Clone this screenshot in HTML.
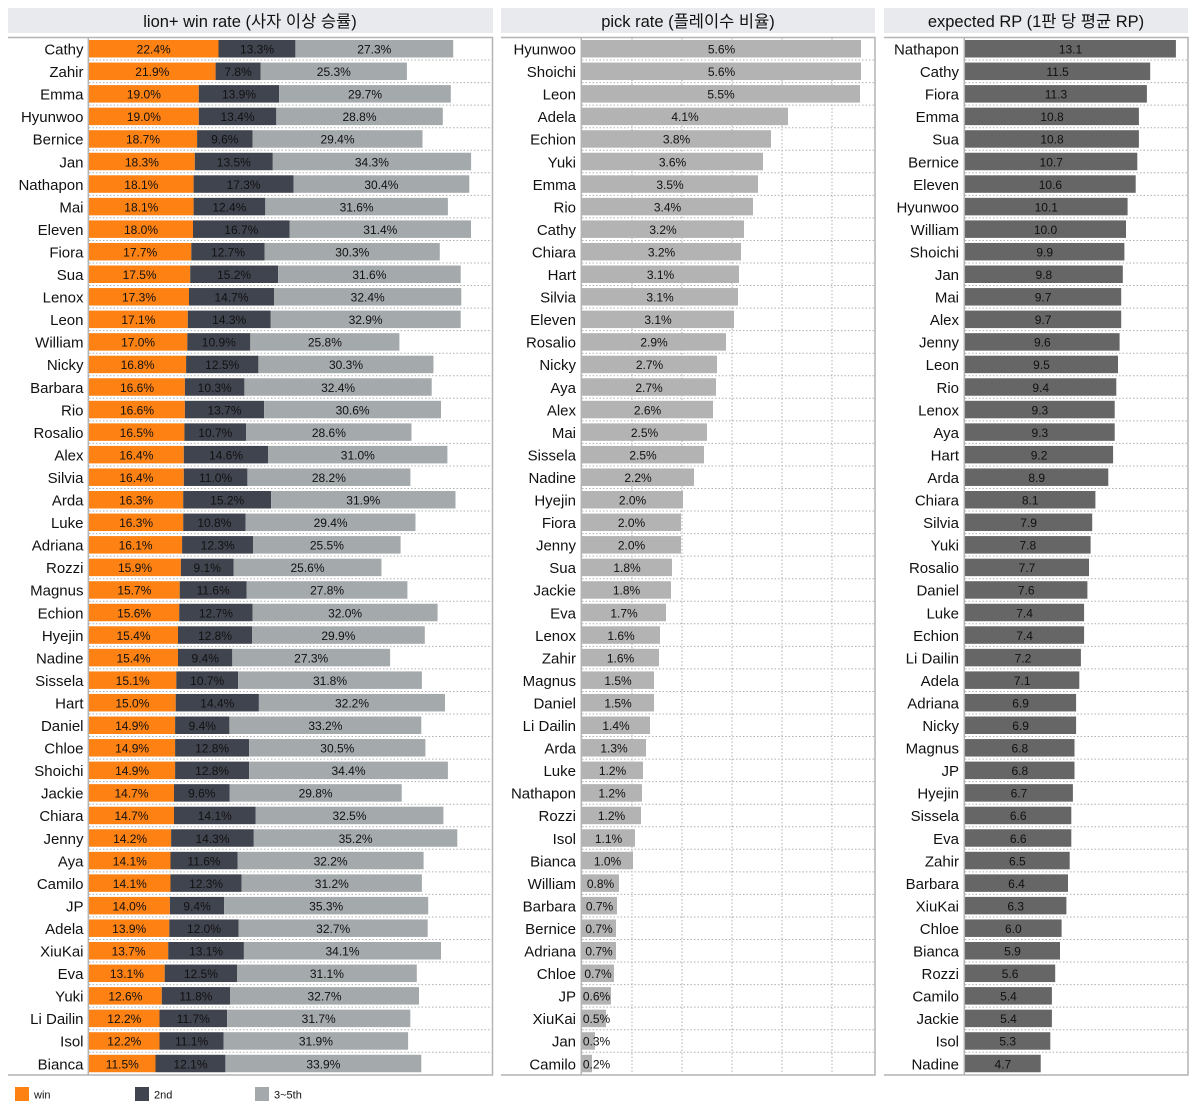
<!DOCTYPE html>
<html><head><meta charset="utf-8"><style>
html,body{margin:0;padding:0;background:#fff;}
svg{display:block;}
.l{font-family:"Liberation Sans","Noto Sans CJK KR",sans-serif;font-size:15px;fill:#111;text-anchor:end;}
.t{font-family:"Liberation Sans",sans-serif;font-size:12px;fill:#111;text-anchor:middle;}
.h{font-family:"Liberation Sans","Noto Sans CJK KR",sans-serif;font-size:16.5px;fill:#111;text-anchor:middle;}
.g{font-family:"Liberation Sans",sans-serif;font-size:11px;fill:#111;}
.o{fill:#FE8113}.d{fill:#40444F}.y{fill:#A4A9AC}.p{fill:#B3B3B3}.r{fill:#666666}
</style></head><body>
<svg width="1200" height="1120" xmlns="http://www.w3.org/2000/svg">
<rect x="0" y="0" width="1200" height="1120" fill="#fff"/>
<rect x="8" y="8" width="485" height="25" fill="#E9EAEE"/>
<rect x="501" y="8" width="374" height="25" fill="#E9EAEE"/>
<rect x="884" y="8" width="304" height="25" fill="#E9EAEE"/>
<text class="h" x="250" y="27">lion+ win rate (사자 이상 승률)</text>
<text class="h" x="688" y="27">pick rate (플레이수 비율)</text>
<text class="h" x="1036" y="27">expected RP (1판 당 평균 RP)</text>
<g stroke="#B0B0B0" stroke-width="1" stroke-dasharray="1.5 2" fill="none">
<path d="M632 38V1075M682 38V1075M732 38V1075M782 38V1075M832 38V1075"/>
<path d="M89 60.05H492M89 82.6H492M89 105.15H492M89 127.7H492M89 150.25H492M89 172.8H492M89 195.35H492M89 217.9H492M89 240.45H492M89 263H492M89 285.55H492M89 308.1H492M89 330.65H492M89 353.2H492M89 375.75H492M89 398.3H492M89 420.85H492M89 443.4H492M89 465.95H492M89 488.5H492M89 511.05H492M89 533.6H492M89 556.15H492M89 578.7H492M89 601.25H492M89 623.8H492M89 646.35H492M89 668.9H492M89 691.45H492M89 714H492M89 736.55H492M89 759.1H492M89 781.65H492M89 804.2H492M89 826.75H492M89 849.3H492M89 871.85H492M89 894.4H492M89 916.95H492M89 939.5H492M89 962.05H492M89 984.6H492M89 1007.15H492M89 1029.7H492M89 1052.25H492"/>
<path transform="translate(493,0)" d="M89 60.05H382M89 82.6H382M89 105.15H382M89 127.7H382M89 150.25H382M89 172.8H382M89 195.35H382M89 217.9H382M89 240.45H382M89 263H382M89 285.55H382M89 308.1H382M89 330.65H382M89 353.2H382M89 375.75H382M89 398.3H382M89 420.85H382M89 443.4H382M89 465.95H382M89 488.5H382M89 511.05H382M89 533.6H382M89 556.15H382M89 578.7H382M89 601.25H382M89 623.8H382M89 646.35H382M89 668.9H382M89 691.45H382M89 714H382M89 736.55H382M89 759.1H382M89 781.65H382M89 804.2H382M89 826.75H382M89 849.3H382M89 871.85H382M89 894.4H382M89 916.95H382M89 939.5H382M89 962.05H382M89 984.6H382M89 1007.15H382M89 1029.7H382M89 1052.25H382"/>
<path transform="translate(876,0)" d="M89 60.05H312M89 82.6H312M89 105.15H312M89 127.7H312M89 150.25H312M89 172.8H312M89 195.35H312M89 217.9H312M89 240.45H312M89 263H312M89 285.55H312M89 308.1H312M89 330.65H312M89 353.2H312M89 375.75H312M89 398.3H312M89 420.85H312M89 443.4H312M89 465.95H312M89 488.5H312M89 511.05H312M89 533.6H312M89 556.15H312M89 578.7H312M89 601.25H312M89 623.8H312M89 646.35H312M89 668.9H312M89 691.45H312M89 714H312M89 736.55H312M89 759.1H312M89 781.65H312M89 804.2H312M89 826.75H312M89 849.3H312M89 871.85H312M89 894.4H312M89 916.95H312M89 939.5H312M89 962.05H312M89 984.6H312M89 1007.15H312M89 1029.7H312M89 1052.25H312"/>
</g>

<g transform="translate(0,37.5)"><text class="l" x="83.5" y="17">Cathy</text><rect class="o" x="89" y="2.5" width="129.5" height="17.5"/><rect class="d" x="218.5" y="2.5" width="76.9" height="17.5"/><rect class="y" x="295.4" y="2.5" width="157.8" height="17.5"/><text class="t" x="153.7" y="16">22.4%</text><text class="t" x="257" y="16">13.3%</text><text class="t" x="374.3" y="16">27.3%</text>
<text class="l" x="576" y="17">Hyunwoo</text><rect class="p" x="582" y="2.5" width="279" height="17.5"/><text class="t" x="721.5" y="16">5.6%</text>
<text class="l" x="959" y="17">Nathapon</text><rect class="r" x="965" y="2.5" width="210.9" height="17.5"/><text class="t" x="1070.5" y="16">13.1</text></g>

<g transform="translate(0,60.05)"><text class="l" x="83.5" y="17">Zahir</text><rect class="o" x="89" y="2.5" width="126.6" height="17.5"/><rect class="d" x="215.6" y="2.5" width="45.1" height="17.5"/><rect class="y" x="260.7" y="2.5" width="146.2" height="17.5"/><text class="t" x="152.3" y="16">21.9%</text><text class="t" x="238.1" y="16">7.8%</text><text class="t" x="333.8" y="16">25.3%</text>
<text class="l" x="576" y="17">Shoichi</text><rect class="p" x="582" y="2.5" width="279" height="17.5"/><text class="t" x="721.5" y="16">5.6%</text>
<text class="l" x="959" y="17">Cathy</text><rect class="r" x="965" y="2.5" width="185.2" height="17.5"/><text class="t" x="1057.6" y="16">11.5</text></g>

<g transform="translate(0,82.6)"><text class="l" x="83.5" y="17">Emma</text><rect class="o" x="89" y="2.5" width="109.8" height="17.5"/><rect class="d" x="198.8" y="2.5" width="80.3" height="17.5"/><rect class="y" x="279.1" y="2.5" width="171.7" height="17.5"/><text class="t" x="143.9" y="16">19.0%</text><text class="t" x="239" y="16">13.9%</text><text class="t" x="365" y="16">29.7%</text>
<text class="l" x="576" y="17">Leon</text><rect class="p" x="582" y="2.5" width="278" height="17.5"/><text class="t" x="721" y="16">5.5%</text>
<text class="l" x="959" y="17">Fiora</text><rect class="r" x="965" y="2.5" width="181.9" height="17.5"/><text class="t" x="1056" y="16">11.3</text></g>

<g transform="translate(0,105.15)"><text class="l" x="83.5" y="17">Hyunwoo</text><rect class="o" x="89" y="2.5" width="109.8" height="17.5"/><rect class="d" x="198.8" y="2.5" width="77.5" height="17.5"/><rect class="y" x="276.3" y="2.5" width="166.5" height="17.5"/><text class="t" x="143.9" y="16">19.0%</text><text class="t" x="237.5" y="16">13.4%</text><text class="t" x="359.5" y="16">28.8%</text>
<text class="l" x="576" y="17">Adela</text><rect class="p" x="582" y="2.5" width="206" height="17.5"/><text class="t" x="685" y="16">4.1%</text>
<text class="l" x="959" y="17">Emma</text><rect class="r" x="965" y="2.5" width="173.9" height="17.5"/><text class="t" x="1052" y="16">10.8</text></g>

<g transform="translate(0,127.7)"><text class="l" x="83.5" y="17">Bernice</text><rect class="o" x="89" y="2.5" width="108.1" height="17.5"/><rect class="d" x="197.1" y="2.5" width="55.5" height="17.5"/><rect class="y" x="252.6" y="2.5" width="169.9" height="17.5"/><text class="t" x="143" y="16">18.7%</text><text class="t" x="224.8" y="16">9.6%</text><text class="t" x="337.5" y="16">29.4%</text>
<text class="l" x="576" y="17">Echion</text><rect class="p" x="582" y="2.5" width="189" height="17.5"/><text class="t" x="676.5" y="16">3.8%</text>
<text class="l" x="959" y="17">Sua</text><rect class="r" x="965" y="2.5" width="173.9" height="17.5"/><text class="t" x="1052" y="16">10.8</text></g>

<g transform="translate(0,150.25)"><text class="l" x="83.5" y="17">Jan</text><rect class="o" x="89" y="2.5" width="105.8" height="17.5"/><rect class="d" x="194.8" y="2.5" width="78" height="17.5"/><rect class="y" x="272.8" y="2.5" width="198.3" height="17.5"/><text class="t" x="141.9" y="16">18.3%</text><text class="t" x="233.8" y="16">13.5%</text><text class="t" x="371.9" y="16">34.3%</text>
<text class="l" x="576" y="17">Yuki</text><rect class="p" x="582" y="2.5" width="181" height="17.5"/><text class="t" x="672.5" y="16">3.6%</text>
<text class="l" x="959" y="17">Bernice</text><rect class="r" x="965" y="2.5" width="172.3" height="17.5"/><text class="t" x="1051.2" y="16">10.7</text></g>

<g transform="translate(0,172.8)"><text class="l" x="83.5" y="17">Nathapon</text><rect class="o" x="89" y="2.5" width="104.6" height="17.5"/><rect class="d" x="193.6" y="2.5" width="100" height="17.5"/><rect class="y" x="293.6" y="2.5" width="175.7" height="17.5"/><text class="t" x="141.3" y="16">18.1%</text><text class="t" x="243.6" y="16">17.3%</text><text class="t" x="381.4" y="16">30.4%</text>
<text class="l" x="576" y="17">Emma</text><rect class="p" x="582" y="2.5" width="176" height="17.5"/><text class="t" x="670" y="16">3.5%</text>
<text class="l" x="959" y="17">Eleven</text><rect class="r" x="965" y="2.5" width="170.7" height="17.5"/><text class="t" x="1050.4" y="16">10.6</text></g>

<g transform="translate(0,195.35)"><text class="l" x="83.5" y="17">Mai</text><rect class="o" x="89" y="2.5" width="104.6" height="17.5"/><rect class="d" x="193.6" y="2.5" width="71.7" height="17.5"/><rect class="y" x="265.3" y="2.5" width="182.6" height="17.5"/><text class="t" x="141.3" y="16">18.1%</text><text class="t" x="229.4" y="16">12.4%</text><text class="t" x="356.6" y="16">31.6%</text>
<text class="l" x="576" y="17">Rio</text><rect class="p" x="582" y="2.5" width="171" height="17.5"/><text class="t" x="667.5" y="16">3.4%</text>
<text class="l" x="959" y="17">Hyunwoo</text><rect class="r" x="965" y="2.5" width="162.6" height="17.5"/><text class="t" x="1046.3" y="16">10.1</text></g>

<g transform="translate(0,217.9)"><text class="l" x="83.5" y="17">Eleven</text><rect class="o" x="89" y="2.5" width="104" height="17.5"/><rect class="d" x="193" y="2.5" width="96.5" height="17.5"/><rect class="y" x="289.5" y="2.5" width="181.5" height="17.5"/><text class="t" x="141" y="16">18.0%</text><text class="t" x="241.3" y="16">16.7%</text><text class="t" x="380.3" y="16">31.4%</text>
<text class="l" x="576" y="17">Cathy</text><rect class="p" x="582" y="2.5" width="162" height="17.5"/><text class="t" x="663" y="16">3.2%</text>
<text class="l" x="959" y="17">William</text><rect class="r" x="965" y="2.5" width="161" height="17.5"/><text class="t" x="1045.5" y="16">10.0</text></g>

<g transform="translate(0,240.45)"><text class="l" x="83.5" y="17">Fiora</text><rect class="o" x="89" y="2.5" width="102.3" height="17.5"/><rect class="d" x="191.3" y="2.5" width="73.4" height="17.5"/><rect class="y" x="264.7" y="2.5" width="175.1" height="17.5"/><text class="t" x="140.2" y="16">17.7%</text><text class="t" x="228" y="16">12.7%</text><text class="t" x="352.3" y="16">30.3%</text>
<text class="l" x="576" y="17">Chiara</text><rect class="p" x="582" y="2.5" width="159" height="17.5"/><text class="t" x="661.5" y="16">3.2%</text>
<text class="l" x="959" y="17">Shoichi</text><rect class="r" x="965" y="2.5" width="159.4" height="17.5"/><text class="t" x="1044.7" y="16">9.9</text></g>

<g transform="translate(0,263)"><text class="l" x="83.5" y="17">Sua</text><rect class="o" x="89" y="2.5" width="101.2" height="17.5"/><rect class="d" x="190.2" y="2.5" width="87.9" height="17.5"/><rect class="y" x="278.1" y="2.5" width="182.6" height="17.5"/><text class="t" x="139.6" y="16">17.5%</text><text class="t" x="234.1" y="16">15.2%</text><text class="t" x="369.4" y="16">31.6%</text>
<text class="l" x="576" y="17">Hart</text><rect class="p" x="582" y="2.5" width="157" height="17.5"/><text class="t" x="660.5" y="16">3.1%</text>
<text class="l" x="959" y="17">Jan</text><rect class="r" x="965" y="2.5" width="157.8" height="17.5"/><text class="t" x="1043.9" y="16">9.8</text></g>

<g transform="translate(0,285.55)"><text class="l" x="83.5" y="17">Lenox</text><rect class="o" x="89" y="2.5" width="100" height="17.5"/><rect class="d" x="189" y="2.5" width="85" height="17.5"/><rect class="y" x="274" y="2.5" width="187.3" height="17.5"/><text class="t" x="139" y="16">17.3%</text><text class="t" x="231.5" y="16">14.7%</text><text class="t" x="367.7" y="16">32.4%</text>
<text class="l" x="576" y="17">Silvia</text><rect class="p" x="582" y="2.5" width="156" height="17.5"/><text class="t" x="660" y="16">3.1%</text>
<text class="l" x="959" y="17">Mai</text><rect class="r" x="965" y="2.5" width="156.2" height="17.5"/><text class="t" x="1043.1" y="16">9.7</text></g>

<g transform="translate(0,308.1)"><text class="l" x="83.5" y="17">Leon</text><rect class="o" x="89" y="2.5" width="98.8" height="17.5"/><rect class="d" x="187.8" y="2.5" width="82.7" height="17.5"/><rect class="y" x="270.5" y="2.5" width="190.2" height="17.5"/><text class="t" x="138.4" y="16">17.1%</text><text class="t" x="229.2" y="16">14.3%</text><text class="t" x="365.6" y="16">32.9%</text>
<text class="l" x="576" y="17">Eleven</text><rect class="p" x="582" y="2.5" width="152" height="17.5"/><text class="t" x="658" y="16">3.1%</text>
<text class="l" x="959" y="17">Alex</text><rect class="r" x="965" y="2.5" width="156.2" height="17.5"/><text class="t" x="1043.1" y="16">9.7</text></g>

<g transform="translate(0,330.65)"><text class="l" x="83.5" y="17">William</text><rect class="o" x="89" y="2.5" width="98.3" height="17.5"/><rect class="d" x="187.3" y="2.5" width="63" height="17.5"/><rect class="y" x="250.3" y="2.5" width="149.1" height="17.5"/><text class="t" x="138.1" y="16">17.0%</text><text class="t" x="218.8" y="16">10.9%</text><text class="t" x="324.9" y="16">25.8%</text>
<text class="l" x="576" y="17">Rosalio</text><rect class="p" x="582" y="2.5" width="144" height="17.5"/><text class="t" x="654" y="16">2.9%</text>
<text class="l" x="959" y="17">Jenny</text><rect class="r" x="965" y="2.5" width="154.6" height="17.5"/><text class="t" x="1042.3" y="16">9.6</text></g>

<g transform="translate(0,353.2)"><text class="l" x="83.5" y="17">Nicky</text><rect class="o" x="89" y="2.5" width="97.1" height="17.5"/><rect class="d" x="186.1" y="2.5" width="72.3" height="17.5"/><rect class="y" x="258.4" y="2.5" width="175.1" height="17.5"/><text class="t" x="137.6" y="16">16.8%</text><text class="t" x="222.2" y="16">12.5%</text><text class="t" x="346" y="16">30.3%</text>
<text class="l" x="576" y="17">Nicky</text><rect class="p" x="582" y="2.5" width="135" height="17.5"/><text class="t" x="649.5" y="16">2.7%</text>
<text class="l" x="959" y="17">Leon</text><rect class="r" x="965" y="2.5" width="153" height="17.5"/><text class="t" x="1041.5" y="16">9.5</text></g>

<g transform="translate(0,375.75)"><text class="l" x="83.5" y="17">Barbara</text><rect class="o" x="89" y="2.5" width="95.9" height="17.5"/><rect class="d" x="184.9" y="2.5" width="59.5" height="17.5"/><rect class="y" x="244.4" y="2.5" width="187.3" height="17.5"/><text class="t" x="137" y="16">16.6%</text><text class="t" x="214.7" y="16">10.3%</text><text class="t" x="338.1" y="16">32.4%</text>
<text class="l" x="576" y="17">Aya</text><rect class="p" x="582" y="2.5" width="134" height="17.5"/><text class="t" x="649" y="16">2.7%</text>
<text class="l" x="959" y="17">Rio</text><rect class="r" x="965" y="2.5" width="151.3" height="17.5"/><text class="t" x="1040.7" y="16">9.4</text></g>

<g transform="translate(0,398.3)"><text class="l" x="83.5" y="17">Rio</text><rect class="o" x="89" y="2.5" width="95.9" height="17.5"/><rect class="d" x="184.9" y="2.5" width="79.2" height="17.5"/><rect class="y" x="264.1" y="2.5" width="176.9" height="17.5"/><text class="t" x="137" y="16">16.6%</text><text class="t" x="224.5" y="16">13.7%</text><text class="t" x="352.6" y="16">30.6%</text>
<text class="l" x="576" y="17">Alex</text><rect class="p" x="582" y="2.5" width="131" height="17.5"/><text class="t" x="647.5" y="16">2.6%</text>
<text class="l" x="959" y="17">Lenox</text><rect class="r" x="965" y="2.5" width="149.7" height="17.5"/><text class="t" x="1039.9" y="16">9.3</text></g>

<g transform="translate(0,420.85)"><text class="l" x="83.5" y="17">Rosalio</text><rect class="o" x="89" y="2.5" width="95.4" height="17.5"/><rect class="d" x="184.4" y="2.5" width="61.8" height="17.5"/><rect class="y" x="246.2" y="2.5" width="165.3" height="17.5"/><text class="t" x="136.7" y="16">16.5%</text><text class="t" x="215.3" y="16">10.7%</text><text class="t" x="328.9" y="16">28.6%</text>
<text class="l" x="576" y="17">Mai</text><rect class="p" x="582" y="2.5" width="125" height="17.5"/><text class="t" x="644.5" y="16">2.5%</text>
<text class="l" x="959" y="17">Aya</text><rect class="r" x="965" y="2.5" width="149.7" height="17.5"/><text class="t" x="1039.9" y="16">9.3</text></g>

<g transform="translate(0,443.4)"><text class="l" x="83.5" y="17">Alex</text><rect class="o" x="89" y="2.5" width="94.8" height="17.5"/><rect class="d" x="183.8" y="2.5" width="84.4" height="17.5"/><rect class="y" x="268.2" y="2.5" width="179.2" height="17.5"/><text class="t" x="136.4" y="16">16.4%</text><text class="t" x="226" y="16">14.6%</text><text class="t" x="357.8" y="16">31.0%</text>
<text class="l" x="576" y="17">Sissela</text><rect class="p" x="582" y="2.5" width="122" height="17.5"/><text class="t" x="643" y="16">2.5%</text>
<text class="l" x="959" y="17">Hart</text><rect class="r" x="965" y="2.5" width="148.1" height="17.5"/><text class="t" x="1039.1" y="16">9.2</text></g>

<g transform="translate(0,465.95)"><text class="l" x="83.5" y="17">Silvia</text><rect class="o" x="89" y="2.5" width="94.8" height="17.5"/><rect class="d" x="183.8" y="2.5" width="63.6" height="17.5"/><rect class="y" x="247.4" y="2.5" width="163" height="17.5"/><text class="t" x="136.4" y="16">16.4%</text><text class="t" x="215.6" y="16">11.0%</text><text class="t" x="328.9" y="16">28.2%</text>
<text class="l" x="576" y="17">Nadine</text><rect class="p" x="582" y="2.5" width="112" height="17.5"/><text class="t" x="638" y="16">2.2%</text>
<text class="l" x="959" y="17">Arda</text><rect class="r" x="965" y="2.5" width="143.3" height="17.5"/><text class="t" x="1036.7" y="16">8.9</text></g>

<g transform="translate(0,488.5)"><text class="l" x="83.5" y="17">Arda</text><rect class="o" x="89" y="2.5" width="94.2" height="17.5"/><rect class="d" x="183.2" y="2.5" width="87.9" height="17.5"/><rect class="y" x="271.1" y="2.5" width="184.4" height="17.5"/><text class="t" x="136.1" y="16">16.3%</text><text class="t" x="227.2" y="16">15.2%</text><text class="t" x="363.3" y="16">31.9%</text>
<text class="l" x="576" y="17">Hyejin</text><rect class="p" x="582" y="2.5" width="101" height="17.5"/><text class="t" x="632.5" y="16">2.0%</text>
<text class="l" x="959" y="17">Chiara</text><rect class="r" x="965" y="2.5" width="130.4" height="17.5"/><text class="t" x="1030.2" y="16">8.1</text></g>

<g transform="translate(0,511.05)"><text class="l" x="83.5" y="17">Luke</text><rect class="o" x="89" y="2.5" width="94.2" height="17.5"/><rect class="d" x="183.2" y="2.5" width="62.4" height="17.5"/><rect class="y" x="245.6" y="2.5" width="169.9" height="17.5"/><text class="t" x="136.1" y="16">16.3%</text><text class="t" x="214.4" y="16">10.8%</text><text class="t" x="330.6" y="16">29.4%</text>
<text class="l" x="576" y="17">Fiora</text><rect class="p" x="582" y="2.5" width="99" height="17.5"/><text class="t" x="631.5" y="16">2.0%</text>
<text class="l" x="959" y="17">Silvia</text><rect class="r" x="965" y="2.5" width="127.2" height="17.5"/><text class="t" x="1028.6" y="16">7.9</text></g>

<g transform="translate(0,533.6)"><text class="l" x="83.5" y="17">Adriana</text><rect class="o" x="89" y="2.5" width="93.1" height="17.5"/><rect class="d" x="182.1" y="2.5" width="71.1" height="17.5"/><rect class="y" x="253.2" y="2.5" width="147.4" height="17.5"/><text class="t" x="135.6" y="16">16.1%</text><text class="t" x="217.7" y="16">12.3%</text><text class="t" x="326.9" y="16">25.5%</text>
<text class="l" x="576" y="17">Jenny</text><rect class="p" x="582" y="2.5" width="99" height="17.5"/><text class="t" x="631.5" y="16">2.0%</text>
<text class="l" x="959" y="17">Yuki</text><rect class="r" x="965" y="2.5" width="125.6" height="17.5"/><text class="t" x="1027.8" y="16">7.8</text></g>

<g transform="translate(0,556.15)"><text class="l" x="83.5" y="17">Rozzi</text><rect class="o" x="89" y="2.5" width="91.9" height="17.5"/><rect class="d" x="180.9" y="2.5" width="52.6" height="17.5"/><rect class="y" x="233.5" y="2.5" width="148" height="17.5"/><text class="t" x="135" y="16">15.9%</text><text class="t" x="207.2" y="16">9.1%</text><text class="t" x="307.5" y="16">25.6%</text>
<text class="l" x="576" y="17">Sua</text><rect class="p" x="582" y="2.5" width="90" height="17.5"/><text class="t" x="627" y="16">1.8%</text>
<text class="l" x="959" y="17">Rosalio</text><rect class="r" x="965" y="2.5" width="124" height="17.5"/><text class="t" x="1027" y="16">7.7</text></g>

<g transform="translate(0,578.7)"><text class="l" x="83.5" y="17">Magnus</text><rect class="o" x="89" y="2.5" width="90.7" height="17.5"/><rect class="d" x="179.7" y="2.5" width="67" height="17.5"/><rect class="y" x="246.7" y="2.5" width="160.7" height="17.5"/><text class="t" x="134.4" y="16">15.7%</text><text class="t" x="213.2" y="16">11.6%</text><text class="t" x="327.1" y="16">27.8%</text>
<text class="l" x="576" y="17">Jackie</text><rect class="p" x="582" y="2.5" width="89" height="17.5"/><text class="t" x="626.5" y="16">1.8%</text>
<text class="l" x="959" y="17">Daniel</text><rect class="r" x="965" y="2.5" width="122.4" height="17.5"/><text class="t" x="1026.2" y="16">7.6</text></g>

<g transform="translate(0,601.25)"><text class="l" x="83.5" y="17">Echion</text><rect class="o" x="89" y="2.5" width="90.2" height="17.5"/><rect class="d" x="179.2" y="2.5" width="73.4" height="17.5"/><rect class="y" x="252.6" y="2.5" width="185" height="17.5"/><text class="t" x="134.1" y="16">15.6%</text><text class="t" x="215.9" y="16">12.7%</text><text class="t" x="345.1" y="16">32.0%</text>
<text class="l" x="576" y="17">Eva</text><rect class="p" x="582" y="2.5" width="84" height="17.5"/><text class="t" x="624" y="16">1.7%</text>
<text class="l" x="959" y="17">Luke</text><rect class="r" x="965" y="2.5" width="119.1" height="17.5"/><text class="t" x="1024.6" y="16">7.4</text></g>

<g transform="translate(0,623.8)"><text class="l" x="83.5" y="17">Hyejin</text><rect class="o" x="89" y="2.5" width="89" height="17.5"/><rect class="d" x="178" y="2.5" width="74" height="17.5"/><rect class="y" x="252" y="2.5" width="172.8" height="17.5"/><text class="t" x="133.5" y="16">15.4%</text><text class="t" x="215" y="16">12.8%</text><text class="t" x="338.4" y="16">29.9%</text>
<text class="l" x="576" y="17">Lenox</text><rect class="p" x="582" y="2.5" width="78" height="17.5"/><text class="t" x="621" y="16">1.6%</text>
<text class="l" x="959" y="17">Echion</text><rect class="r" x="965" y="2.5" width="119.1" height="17.5"/><text class="t" x="1024.6" y="16">7.4</text></g>

<g transform="translate(0,646.35)"><text class="l" x="83.5" y="17">Nadine</text><rect class="o" x="89" y="2.5" width="89" height="17.5"/><rect class="d" x="178" y="2.5" width="54.3" height="17.5"/><rect class="y" x="232.3" y="2.5" width="157.8" height="17.5"/><text class="t" x="133.5" y="16">15.4%</text><text class="t" x="205.2" y="16">9.4%</text><text class="t" x="311.2" y="16">27.3%</text>
<text class="l" x="576" y="17">Zahir</text><rect class="p" x="582" y="2.5" width="77" height="17.5"/><text class="t" x="620.5" y="16">1.6%</text>
<text class="l" x="959" y="17">Li Dailin</text><rect class="r" x="965" y="2.5" width="115.9" height="17.5"/><text class="t" x="1023" y="16">7.2</text></g>

<g transform="translate(0,668.9)"><text class="l" x="83.5" y="17">Sissela</text><rect class="o" x="89" y="2.5" width="87.3" height="17.5"/><rect class="d" x="176.3" y="2.5" width="61.8" height="17.5"/><rect class="y" x="238.1" y="2.5" width="183.8" height="17.5"/><text class="t" x="132.7" y="16">15.1%</text><text class="t" x="207.2" y="16">10.7%</text><text class="t" x="330" y="16">31.8%</text>
<text class="l" x="576" y="17">Magnus</text><rect class="p" x="582" y="2.5" width="72" height="17.5"/><text class="t" x="618" y="16">1.5%</text>
<text class="l" x="959" y="17">Adela</text><rect class="r" x="965" y="2.5" width="114.3" height="17.5"/><text class="t" x="1022.2" y="16">7.1</text></g>

<g transform="translate(0,691.45)"><text class="l" x="83.5" y="17">Hart</text><rect class="o" x="89" y="2.5" width="86.7" height="17.5"/><rect class="d" x="175.7" y="2.5" width="83.2" height="17.5"/><rect class="y" x="258.9" y="2.5" width="186.1" height="17.5"/><text class="t" x="132.4" y="16">15.0%</text><text class="t" x="217.3" y="16">14.4%</text><text class="t" x="352" y="16">32.2%</text>
<text class="l" x="576" y="17">Daniel</text><rect class="p" x="582" y="2.5" width="72" height="17.5"/><text class="t" x="618" y="16">1.5%</text>
<text class="l" x="959" y="17">Adriana</text><rect class="r" x="965" y="2.5" width="111.1" height="17.5"/><text class="t" x="1020.6" y="16">6.9</text></g>

<g transform="translate(0,714)"><text class="l" x="83.5" y="17">Daniel</text><rect class="o" x="89" y="2.5" width="86.1" height="17.5"/><rect class="d" x="175.1" y="2.5" width="54.3" height="17.5"/><rect class="y" x="229.4" y="2.5" width="191.9" height="17.5"/><text class="t" x="132.1" y="16">14.9%</text><text class="t" x="202.3" y="16">9.4%</text><text class="t" x="325.4" y="16">33.2%</text>
<text class="l" x="576" y="17">Li Dailin</text><rect class="p" x="582" y="2.5" width="68" height="17.5"/><text class="t" x="616" y="16">1.4%</text>
<text class="l" x="959" y="17">Nicky</text><rect class="r" x="965" y="2.5" width="111.1" height="17.5"/><text class="t" x="1020.6" y="16">6.9</text></g>

<g transform="translate(0,736.55)"><text class="l" x="83.5" y="17">Chloe</text><rect class="o" x="89" y="2.5" width="86.1" height="17.5"/><rect class="d" x="175.1" y="2.5" width="74" height="17.5"/><rect class="y" x="249.1" y="2.5" width="176.3" height="17.5"/><text class="t" x="132.1" y="16">14.9%</text><text class="t" x="212.1" y="16">12.8%</text><text class="t" x="337.3" y="16">30.5%</text>
<text class="l" x="576" y="17">Arda</text><rect class="p" x="582" y="2.5" width="64" height="17.5"/><text class="t" x="614" y="16">1.3%</text>
<text class="l" x="959" y="17">Magnus</text><rect class="r" x="965" y="2.5" width="109.5" height="17.5"/><text class="t" x="1019.8" y="16">6.8</text></g>

<g transform="translate(0,759.1)"><text class="l" x="83.5" y="17">Shoichi</text><rect class="o" x="89" y="2.5" width="86.1" height="17.5"/><rect class="d" x="175.1" y="2.5" width="74" height="17.5"/><rect class="y" x="249.1" y="2.5" width="198.8" height="17.5"/><text class="t" x="132.1" y="16">14.9%</text><text class="t" x="212.1" y="16">12.8%</text><text class="t" x="348.5" y="16">34.4%</text>
<text class="l" x="576" y="17">Luke</text><rect class="p" x="582" y="2.5" width="61" height="17.5"/><text class="t" x="612.5" y="16">1.2%</text>
<text class="l" x="959" y="17">JP</text><rect class="r" x="965" y="2.5" width="109.5" height="17.5"/><text class="t" x="1019.8" y="16">6.8</text></g>

<g transform="translate(0,781.65)"><text class="l" x="83.5" y="17">Jackie</text><rect class="o" x="89" y="2.5" width="85" height="17.5"/><rect class="d" x="174" y="2.5" width="55.5" height="17.5"/><rect class="y" x="229.5" y="2.5" width="172.2" height="17.5"/><text class="t" x="131.5" y="16">14.7%</text><text class="t" x="201.8" y="16">9.6%</text><text class="t" x="315.6" y="16">29.8%</text>
<text class="l" x="576" y="17">Nathapon</text><rect class="p" x="582" y="2.5" width="60" height="17.5"/><text class="t" x="612" y="16">1.2%</text>
<text class="l" x="959" y="17">Hyejin</text><rect class="r" x="965" y="2.5" width="107.9" height="17.5"/><text class="t" x="1019" y="16">6.7</text></g>

<g transform="translate(0,804.2)"><text class="l" x="83.5" y="17">Chiara</text><rect class="o" x="89" y="2.5" width="85" height="17.5"/><rect class="d" x="174" y="2.5" width="81.5" height="17.5"/><rect class="y" x="255.5" y="2.5" width="187.9" height="17.5"/><text class="t" x="131.5" y="16">14.7%</text><text class="t" x="214.8" y="16">14.1%</text><text class="t" x="349.5" y="16">32.5%</text>
<text class="l" x="576" y="17">Rozzi</text><rect class="p" x="582" y="2.5" width="59" height="17.5"/><text class="t" x="611.5" y="16">1.2%</text>
<text class="l" x="959" y="17">Sissela</text><rect class="r" x="965" y="2.5" width="106.3" height="17.5"/><text class="t" x="1018.2" y="16">6.6</text></g>

<g transform="translate(0,826.75)"><text class="l" x="83.5" y="17">Jenny</text><rect class="o" x="89" y="2.5" width="82.1" height="17.5"/><rect class="d" x="171.1" y="2.5" width="82.7" height="17.5"/><rect class="y" x="253.8" y="2.5" width="203.5" height="17.5"/><text class="t" x="130.1" y="16">14.2%</text><text class="t" x="212.5" y="16">14.3%</text><text class="t" x="355.6" y="16">35.2%</text>
<text class="l" x="576" y="17">Isol</text><rect class="p" x="582" y="2.5" width="53" height="17.5"/><text class="t" x="608.5" y="16">1.1%</text>
<text class="l" x="959" y="17">Eva</text><rect class="r" x="965" y="2.5" width="106.3" height="17.5"/><text class="t" x="1018.2" y="16">6.6</text></g>

<g transform="translate(0,849.3)"><text class="l" x="83.5" y="17">Aya</text><rect class="o" x="89" y="2.5" width="81.5" height="17.5"/><rect class="d" x="170.5" y="2.5" width="67" height="17.5"/><rect class="y" x="237.5" y="2.5" width="186.1" height="17.5"/><text class="t" x="129.8" y="16">14.1%</text><text class="t" x="204" y="16">11.6%</text><text class="t" x="330.6" y="16">32.2%</text>
<text class="l" x="576" y="17">Bianca</text><rect class="p" x="582" y="2.5" width="51" height="17.5"/><text class="t" x="607.5" y="16">1.0%</text>
<text class="l" x="959" y="17">Zahir</text><rect class="r" x="965" y="2.5" width="104.7" height="17.5"/><text class="t" x="1017.4" y="16">6.5</text></g>

<g transform="translate(0,871.85)"><text class="l" x="83.5" y="17">Camilo</text><rect class="o" x="89" y="2.5" width="81.5" height="17.5"/><rect class="d" x="170.5" y="2.5" width="71.1" height="17.5"/><rect class="y" x="241.6" y="2.5" width="180.3" height="17.5"/><text class="t" x="129.8" y="16">14.1%</text><text class="t" x="206.1" y="16">12.3%</text><text class="t" x="331.8" y="16">31.2%</text>
<text class="l" x="576" y="17">William</text><rect class="p" x="582" y="2.5" width="37" height="17.5"/><text class="t" x="600.5" y="16">0.8%</text>
<text class="l" x="959" y="17">Barbara</text><rect class="r" x="965" y="2.5" width="103" height="17.5"/><text class="t" x="1016.5" y="16">6.4</text></g>

<g transform="translate(0,894.4)"><text class="l" x="83.5" y="17">JP</text><rect class="o" x="89" y="2.5" width="80.9" height="17.5"/><rect class="d" x="169.9" y="2.5" width="54.3" height="17.5"/><rect class="y" x="224.2" y="2.5" width="204" height="17.5"/><text class="t" x="129.5" y="16">14.0%</text><text class="t" x="197.1" y="16">9.4%</text><text class="t" x="326.2" y="16">35.3%</text>
<text class="l" x="576" y="17">Barbara</text><rect class="p" x="582" y="2.5" width="35" height="17.5"/><text class="t" x="599.5" y="16">0.7%</text>
<text class="l" x="959" y="17">XiuKai</text><rect class="r" x="965" y="2.5" width="101.4" height="17.5"/><text class="t" x="1015.7" y="16">6.3</text></g>

<g transform="translate(0,916.95)"><text class="l" x="83.5" y="17">Adela</text><rect class="o" x="89" y="2.5" width="80.3" height="17.5"/><rect class="d" x="169.3" y="2.5" width="69.4" height="17.5"/><rect class="y" x="238.7" y="2.5" width="189" height="17.5"/><text class="t" x="129.2" y="16">13.9%</text><text class="t" x="204" y="16">12.0%</text><text class="t" x="333.2" y="16">32.7%</text>
<text class="l" x="576" y="17">Bernice</text><rect class="p" x="582" y="2.5" width="34" height="17.5"/><text class="t" x="599" y="16">0.7%</text>
<text class="l" x="959" y="17">Chloe</text><rect class="r" x="965" y="2.5" width="96.6" height="17.5"/><text class="t" x="1013.3" y="16">6.0</text></g>

<g transform="translate(0,939.5)"><text class="l" x="83.5" y="17">XiuKai</text><rect class="o" x="89" y="2.5" width="79.2" height="17.5"/><rect class="d" x="168.2" y="2.5" width="75.7" height="17.5"/><rect class="y" x="243.9" y="2.5" width="197.1" height="17.5"/><text class="t" x="128.6" y="16">13.7%</text><text class="t" x="206.1" y="16">13.1%</text><text class="t" x="342.5" y="16">34.1%</text>
<text class="l" x="576" y="17">Adriana</text><rect class="p" x="582" y="2.5" width="34" height="17.5"/><text class="t" x="599" y="16">0.7%</text>
<text class="l" x="959" y="17">Bianca</text><rect class="r" x="965" y="2.5" width="95" height="17.5"/><text class="t" x="1012.5" y="16">5.9</text></g>

<g transform="translate(0,962.05)"><text class="l" x="83.5" y="17">Eva</text><rect class="o" x="89" y="2.5" width="75.7" height="17.5"/><rect class="d" x="164.7" y="2.5" width="72.3" height="17.5"/><rect class="y" x="237" y="2.5" width="179.8" height="17.5"/><text class="t" x="126.9" y="16">13.1%</text><text class="t" x="200.9" y="16">12.5%</text><text class="t" x="326.9" y="16">31.1%</text>
<text class="l" x="576" y="17">Chloe</text><rect class="p" x="582" y="2.5" width="32" height="17.5"/><text class="t" x="598" y="16">0.7%</text>
<text class="l" x="959" y="17">Rozzi</text><rect class="r" x="965" y="2.5" width="90.2" height="17.5"/><text class="t" x="1010.1" y="16">5.6</text></g>

<g transform="translate(0,984.6)"><text class="l" x="83.5" y="17">Yuki</text><rect class="o" x="89" y="2.5" width="72.8" height="17.5"/><rect class="d" x="161.8" y="2.5" width="68.2" height="17.5"/><rect class="y" x="230" y="2.5" width="189" height="17.5"/><text class="t" x="125.4" y="16">12.6%</text><text class="t" x="195.9" y="16">11.8%</text><text class="t" x="324.5" y="16">32.7%</text>
<text class="l" x="576" y="17">JP</text><rect class="p" x="582" y="2.5" width="29" height="17.5"/><text class="t" x="596.5" y="16">0.6%</text>
<text class="l" x="959" y="17">Camilo</text><rect class="r" x="965" y="2.5" width="86.9" height="17.5"/><text class="t" x="1008.5" y="16">5.4</text></g>

<g transform="translate(0,1007.15)"><text class="l" x="83.5" y="17">Li Dailin</text><rect class="o" x="89" y="2.5" width="70.5" height="17.5"/><rect class="d" x="159.5" y="2.5" width="67.6" height="17.5"/><rect class="y" x="227.1" y="2.5" width="183.2" height="17.5"/><text class="t" x="124.3" y="16">12.2%</text><text class="t" x="193.3" y="16">11.7%</text><text class="t" x="318.7" y="16">31.7%</text>
<text class="l" x="576" y="17">XiuKai</text><rect class="p" x="582" y="2.5" width="24" height="17.5"/><text class="t" x="596.5" y="16">0.5%</text>
<text class="l" x="959" y="17">Jackie</text><rect class="r" x="965" y="2.5" width="86.9" height="17.5"/><text class="t" x="1008.5" y="16">5.4</text></g>

<g transform="translate(0,1029.7)"><text class="l" x="83.5" y="17">Isol</text><rect class="o" x="89" y="2.5" width="70.5" height="17.5"/><rect class="d" x="159.5" y="2.5" width="64.2" height="17.5"/><rect class="y" x="223.7" y="2.5" width="184.4" height="17.5"/><text class="t" x="124.3" y="16">12.2%</text><text class="t" x="191.6" y="16">11.1%</text><text class="t" x="315.9" y="16">31.9%</text>
<text class="l" x="576" y="17">Jan</text><rect class="p" x="582" y="2.5" width="13" height="17.5"/><text class="t" x="596.5" y="16">0.3%</text>
<text class="l" x="959" y="17">Isol</text><rect class="r" x="965" y="2.5" width="85.3" height="17.5"/><text class="t" x="1007.7" y="16">5.3</text></g>

<g transform="translate(0,1052.25)"><text class="l" x="83.5" y="17">Bianca</text><rect class="o" x="89" y="2.5" width="66.5" height="17.5"/><rect class="d" x="155.5" y="2.5" width="69.9" height="17.5"/><rect class="y" x="225.4" y="2.5" width="195.9" height="17.5"/><text class="t" x="122.3" y="16">11.5%</text><text class="t" x="190.5" y="16">12.1%</text><text class="t" x="323.4" y="16">33.9%</text>
<text class="l" x="576" y="17">Camilo</text><rect class="p" x="582" y="2.5" width="10" height="17.5"/><text class="t" x="596.5" y="16">0.2%</text>
<text class="l" x="959" y="17">Nadine</text><rect class="r" x="965" y="2.5" width="75.7" height="17.5"/><text class="t" x="1002.9" y="16">4.7</text></g>

<g stroke="#B4B4B4" stroke-width="1.5" fill="none">
<path d="M8 37.5H492.5V1075H8M88.3 37.5V1075"/>
<path d="M501 37.5H875V1075H501M581.3 37.5V1075"/>
<path d="M884 37.5H1188V1075H884M964.3 37.5V1075"/>
</g>

<rect x="15" y="1087" width="14" height="14" class="o"/>
<text class="g" x="34" y="1098.5">win</text>
<rect x="135" y="1087" width="14" height="14" class="d"/>
<text class="g" x="154" y="1098.5">2nd</text>
<rect x="255" y="1087" width="14" height="14" class="y"/>
<text class="g" x="274" y="1098.5">3~5th</text>
</svg>
</body></html>
